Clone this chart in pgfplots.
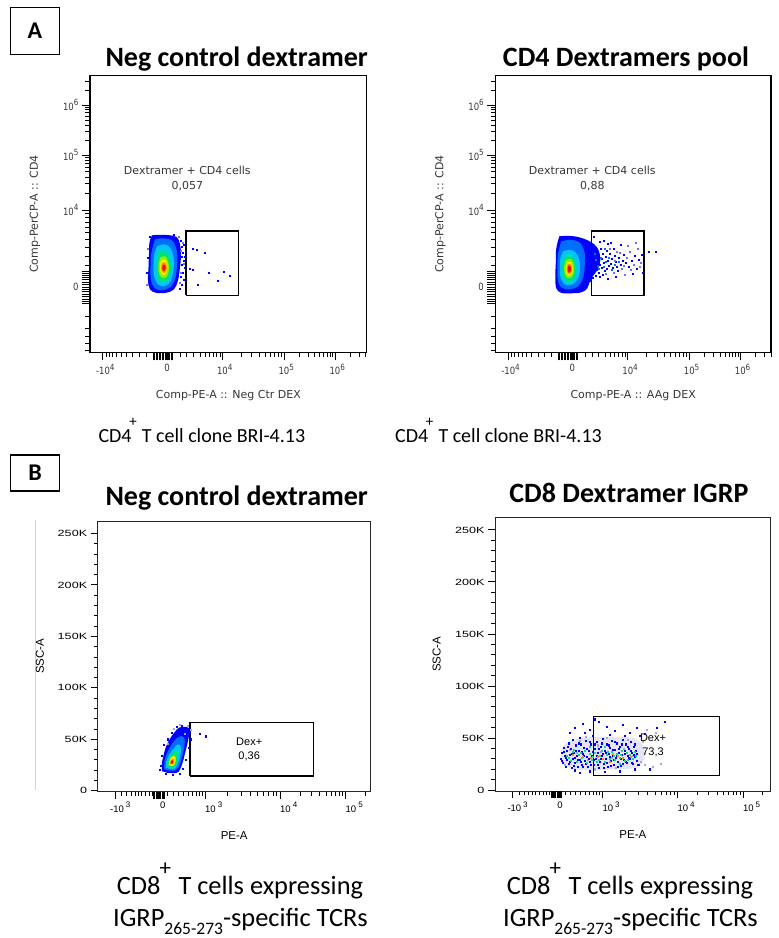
\documentclass[border=0pt]{standalone}
\usepackage{pgfplots}
\pgfplotsset{compat=1.18}
\usepackage{fontspec}
\setmainfont{Carlito}
\newfontfamily\fjfont{DejaVu Sans}
\newfontfamily\fjnarrow[FakeStretch=0.85]{DejaVu Sans}
\newfontfamily\hvfont{Liberation Sans}
\newfontfamily\hvwide[FakeStretch=1.4]{Liberation Sans}

% pseudocolour density levels (low -> high)
\definecolor{pc1}{RGB}{0,0,255}
\definecolor{pc2}{RGB}{0,110,255}
\definecolor{pc3}{RGB}{0,200,240}
\definecolor{pc4}{RGB}{0,225,120}
\definecolor{pc5}{RGB}{140,240,0}
\definecolor{pc6}{RGB}{255,235,0}
\definecolor{pc7}{RGB}{255,140,0}
\definecolor{pc8}{RGB}{235,20,0}
\definecolor{haze}{RGB}{228,228,246}
\definecolor{mist}{RGB}{165,165,215}
\definecolor{lilac}{RGB}{110,110,255}
\definecolor{fjtext}{RGB}{55,55,55}

% fonts used inside the plots
\newcommand\ftick{\fjnarrow\fontsize{10}{11}\selectfont\color{fjtext}}
\newcommand\fsup[1]{\raisebox{4.5pt}{\fontsize{8.5}{9}\selectfont #1}}
\newcommand\fdec[2]{\makebox[0pt]{\ftick\phantom{\fsup{#2}}#1\fsup{#2}}}
\newcommand\flab{\fjfont\fontsize{11}{12}\selectfont\color{fjtext}}
\newcommand\htick{\hvfont\fontsize{9.5}{10}\selectfont}
\newcommand\hsup[1]{\kern2pt\raisebox{4.5pt}{\fontsize{8}{8}\selectfont #1}}
\newcommand\hlab{\hvfont\fontsize{11.5}{12}\selectfont}
\newcommand\lft[1]{\makebox[0pt][l]{#1}}

\pgfplotsset{
  level/.style={draw=none, fill=#1, smooth, tension=0.6},
  dots/.style={only marks, mark=square*, mark size=0.55pt, color=#1, mark options={draw=none, fill=#1}},
  gate/.style={black, line width=1.2pt, mark=none},
  % biexponential display used by the CD4 panels
  fjtop/.style={
    scale only axis, height=276.6pt,
    ymin=0, ymax=276.6, xmin=0,
    axis line style={black, line width=1.2pt},
    tick align=outside, xtick pos=bottom, ytick pos=left,
    major tick length=8pt, minor tick length=4.5pt,
    every major tick/.append style={black, line width=1pt},
    every minor tick/.append style={black, line width=0.8pt},
    xtick={13,77,132.5,194,245},
    xticklabels={{\fdec{-10}{4}},{\ftick 0},{\fdec{10}{4}},{\fdec{10}{5}},{\fdec{10}{6}}},
    minor xtick={16,19.3,22.7,26.7,31,36,42.7,49.3,56,90,96.7,103.3,110,115,119.3,123.3,126.7,130,151,161.8,169.5,175.5,180.4,184.5,188,191.2,209.4,218.3,224.7,229.6,233.7,237.1,240.1,242.7,260.4,269.3,275.7},
    extra x ticks={63,64.5,66,67.5,69,70.5,72,73.5,75,76.5,78,79.5,81,82.5},
    extra x tick labels={},
    ytick={65.3,142.3,197.3,247.3},
    yticklabels={{\ftick 0},{\ftick 10\fsup{4}},{\ftick 10\fsup{5}},{\ftick 10\fsup{6}}},
    minor ytick={2.3,9,15.6,24,35.6,87.3,95.9,104.5,113.1,119.6,125.2,130.4,134.8,139,158.9,168.5,175.4,180.7,185.1,188.8,192,194.8,212.4,221.2,227.4,232.2,236.2,239.6,242.5,245,262.4,271.2},
    extra y ticks={49,51,53,55.5,58,60.5,63,67.5,70,72.5,75,77,79,81},
    extra y tick labels={},
    every axis x label/.style={at={(axis description cs:0.5,-0.158)}, anchor=center},
    every axis y label/.style={at={(axis description cs:-0.199,0.5)}, rotate=90, anchor=center},
  },
  % linear SSC against biexponential PE for the CD8 panels
  fjbot/.style={
    scale only axis, xmin=0, ymin=-1, ymax=262.144,
    axis line style={black!85, line width=1pt},
    tick align=outside, xtick pos=bottom, ytick pos=left,
    major tick length=7pt, minor tick length=4pt,
    every major tick/.append style={black, line width=0.9pt},
    every minor tick/.append style={black, line width=0.7pt},
    xtick={17.5,65,107.5,182.5,248},
    xticklabels={{\lft{\htick\hspace{-5pt}-10\hsup{3}}},{\htick 0},{\lft{\htick 10\hsup{3}}},{\lft{\htick 10\hsup{4}}},{\lft{\htick 10\hsup{5}}}},
    minor xtick={24,29,33.3,37.3,40.6,44,48,51.3,54.6,70,75.6,80.6,85.6,90.6,94.6,98.3,101.6,104.6,130.1,143.3,152.7,159.9,165.9,170.9,175.2,179.1,202.2,213.8,221.9,228.3,233.5,237.9,241.7,245,267.7},
    extra x ticks={56,57.2,58.4,59.6,60.8,62,63.2,64.4,65.6,66.8},
    extra x tick labels={},
    ytick={0,50,100,150,200,250},
    yticklabels={0,50K,100K,150K,200K,250K},
    minor y tick num=4,
    yticklabel style={font=\hvwide\fontsize{9}{10}\selectfont},
  },
}

\begin{document}
\begin{tikzpicture}[x=1pt,y=1pt]
\path[use as bounding box] (0,0) rectangle (779,-938);

% panel letters
\draw[line width=1.3pt] (10.7,-7.3) rectangle (59.3,-54.3);
\node[font=\bfseries\fontsize{24}{24}\selectfont] at (35,-31) {A};
\draw[line width=1.3pt] (10.7,-455) rectangle (59.3,-491);
\node[font=\bfseries\fontsize{24}{24}\selectfont] at (35,-473) {B};

% panel titles
\node[anchor=base, font=\bfseries\fontsize{28}{28}\selectfont] at (236.7,-66.7) {Neg control dextramer};
\node[anchor=base, font=\bfseries\fontsize{28}{28}\selectfont] at (626,-66.7) {CD4 Dextramers pool};
\node[anchor=base, font=\bfseries\fontsize{28}{28}\selectfont] at (236.7,-505) {Neg control dextramer};
\node[anchor=base, font=\bfseries\fontsize{28}{28}\selectfont] at (629,-502.7) {CD8 Dextramer IGRP};

% captions (cell type, raised plus sign, remainder)
\foreach \dx in {0,296.6} {
  \node[anchor=base west, inner sep=0, font=\fontsize{20}{20}\selectfont] at (98.3+\dx,-442.7) {CD4};
  \node[inner sep=0, font=\fontsize{15}{15}\selectfont] at (133+\dx,-422.5) {+};
  \node[anchor=base west, inner sep=0, font=\fontsize{20}{20}\selectfont] at (141.7+\dx,-442.7) {T cell clone BRI-4.13};
}
\foreach \dx in {0,390} {
  \node[anchor=base west, inner sep=0, font=\fontsize{26.4}{26.4}\selectfont] at (116.7+\dx,-894) {CD8};
  \node[inner sep=0, font=\fontsize{23}{23}\selectfont] at (165.3+\dx,-869.5) {+};
  \node[anchor=base west, inner sep=0, font=\fontsize{26.4}{26.4}\selectfont] at (178.3+\dx,-894) {T cells expressing};
  \node[anchor=base, font=\fontsize{26.4}{26.4}\selectfont] at (240.5+\dx,-926.7) {IGRP\raisebox{-8pt}{\fontsize{17.5}{17.5}\selectfont 265-273}-specific TCRs};
}

% faint rule left of the lower-left panel
\draw[gray!35, line width=0.8pt] (35.7,-520) -- (35.7,-790);

%% ---------------- A, left: negative control dextramer ----------------
\begin{axis}[fjtop, at={(90pt,-75.7pt)}, anchor=north west,
  width=276.7pt, xmax=276.7,
  xlabel={\flab Comp-PE-A :: Neg Ctr DEX}, ylabel={\flab Comp-PerCP-A :: CD4}]
\addplot[level=pc1] coordinates {(62,117) (70,117.5) (80,117) (87,115) (90,108) (91,98) (90,85) (88,72) (84,63) (76,59.5) (66,59.5) (60,63) (58,72) (58.5,85) (59,98) (59.5,110) (62,117)};
\addplot[level=pc2] coordinates {(65,113) (74,114) (83,111) (87,100) (87,86) (85,73) (80,65) (72,62) (65,64) (61,72) (60.5,86) (61.5,100) (65,113)};
\addplot[level=pc3] coordinates {(67,106) (75,108) (81,103) (84,92) (83,80) (80,70) (74,66) (68,68) (64,76) (63.5,88) (64.5,99) (67,106)};
\addplot[level=pc4] coordinates {(69,100) (75,101) (79,96) (81,87) (80,78) (76,71) (71,70) (67.5,75) (66.5,85) (67,94) (69,100)};
\addplot[level=pc5] coordinates {(70.5,95) (75,96) (78,91) (79,84) (77.5,77) (74,74) (70.5,76) (68.5,81) (68.5,89) (70.5,95)};
\addplot[level=pc6] coordinates {(71.5,92) (75,93) (77,89) (77.5,84) (76,79) (73.5,77) (71,79) (70,84) (70.3,89) (71.5,92)};
\addplot[level=pc7] coordinates {(72.3,89.5) (75,90) (76.5,86.5) (76.3,82) (74.5,79.5) (72.5,80) (71.2,83) (71.3,87) (72.3,89.5)};
\addplot[level=pc8] coordinates {(73,87.5) (75,87.5) (75.7,84.5) (74.8,81.8) (73.2,81.3) (72.2,83.5) (72.4,86.5) (73,87.5)};
\addplot[dots=pc1] coordinates {(91,112) (92,106) (93,100) (91.5,96) (94,92) (92,88) (95,85) (93,80) (91,76) (94,73) (92,68) (90,64) (94,108) (95,96) (96,101) (57,80) (57.5,95) (60,116) (84,118)};
\addplot[dots=lilac] coordinates {(89,116) (92.5,110) (90.5,102) (93.5,89) (90.5,80) (89.5,70) (57,68) (58,104)};
\addplot[dots=pc1] coordinates {(102.7,104) (106.7,102.3) (114.3,99.6) (100,84) (102.7,83) (107.7,68) (118.7,80) (127.3,71.3) (134,81) (139.3,76.6)};
\addplot[gate] coordinates {(96,57) (148.7,57) (148.7,121.3) (96,121.3) (96,57)};
\node[font=\fjfont\fontsize{11}{15}\selectfont, text=fjtext, align=center] at (axis cs:97.3,174) {Dextramer + CD4 cells\\0,057};
\end{axis}

%% ---------------- A, right: CD4 dextramer pool ----------------
\begin{axis}[fjtop, at={(495.3pt,-75.7pt)}, anchor=north west,
  width=275.7pt, xmax=275.7,
  xlabel={\flab Comp-PE-A :: AAg DEX}, ylabel={\flab Comp-PerCP-A :: CD4}]
\addplot[level=pc1] coordinates {(64,116) (72,116.5) (82,115.5) (90,113) (96,110) (101,106) (104,100) (105,92) (103,84) (99,78) (95,72) (92,64) (86,60) (76,59) (66,59.5) (61,64) (60,75) (60.5,90) (61,104) (64,116)};
\addplot[level=pc2] coordinates {(66,111) (75,112.5) (84,110) (89,101) (89.5,88) (88,75) (83,66) (74,63) (66,65) (62.5,73) (62,87) (63,100) (66,111)};
\addplot[level=pc3] coordinates {(68,101) (75,102.5) (81,99) (84.5,90) (84,78) (80,70) (74,67) (68,69) (65,76) (64.5,87) (65.5,96) (68,101)};
\addplot[level=pc4] coordinates {(69.5,95) (75,96.5) (79,92) (81,84) (80,76) (76,71.5) (71,71.5) (67.5,76) (67,84) (67.5,91) (69.5,95)};
\addplot[level=pc5] coordinates {(70.5,92) (75,93.5) (78,90) (79,83) (77.5,76.5) (74,74) (70.5,76) (69,81) (69,87) (70.5,92)};
\addplot[level=pc6] coordinates {(72,89.5) (75,90.5) (77,87) (77.5,82) (76,78) (73.5,76.5) (71.2,78.5) (70.5,82.5) (70.7,86.5) (72,89.5)};
\addplot[level=pc7] coordinates {(72.5,88) (75,88.5) (76.5,85) (76.3,80.5) (74.5,78.3) (72.5,78.8) (71.5,82) (71.7,85.5) (72.5,88)};
\addplot[level=pc8] coordinates {(73,86.5) (75,86.5) (75.8,83) (75,80) (73.3,79.7) (72.3,82) (72.5,85) (73,86.5)};
\addplot[dots=pc1] coordinates {(93,110) (95,106) (97,103) (96,98) (98,95) (95,92) (97,89) (99,86) (96,84) (98,80) (100,77) (97,75) (94,72) (101,100) (103,97) (102,92) (104,88) (101,83) (103,80) (105,104) (107,99) (106,94) (108,90) (106,85) (109,82) (104,76) (107,78) (110,96) (111,102) (112,92) (113,87) (111,84) (114,99) (116,94) (115,89) (117,85) (119,97) (118,104) (120,91) (121,86) (123,95) (125,88) (122,82) (127,92) (128,98) (130,90) (133,86) (136,92) (139,97) (141,84) (143,93) (137,79) (146,98) (115,110) (108,112) (120,76) (112,74) (125,108) (147,80) (98,115.6) (104.7,110.6) (112,109) (153,100.6) (160.7,100.6)};
\addplot[dots=lilac] coordinates {(124,100) (126,84) (131,95) (134,101) (138,88) (142,104) (145,90) (129,78) (132,107) (140,110) (144,86) (118,80) (110,79) (114,104) (121,101) (135,83) (128,87) (119,92)};
\addplot[dots=pc2] coordinates {(99,99) (102,87) (105,95) (108,86) (110,91) (113,95) (116,83) (109,104) (119,88) (123,91) (100,93) (103,84)};
\addplot[gate] coordinates {(96,57) (148.7,57) (148.7,121.3) (96,121.3) (96,57)};
\node[font=\fjfont\fontsize{11}{15}\selectfont, text=fjtext, align=center] at (axis cs:97,174) {Dextramer + CD4 cells\\0,88};
\end{axis}

%% ---------------- B, left: negative control dextramer ----------------
\begin{axis}[fjbot, at={(97.7pt,-521pt)}, anchor=north west,
  width=273pt, height=270.7pt, xmax=273,
  xlabel={\hlab PE-A}, ylabel={\hlab SSC-A},
  every axis x label/.style={at={(axis description cs:0.5,-0.1625)}, anchor=center},
  every axis y label/.style={at={(axis description cs:-0.2114,0.5)}, rotate=90, anchor=center}]
\addplot[level=pc1] coordinates {(64.5,19) (70,17.3) (76,17) (81,18.5) (84.5,26) (87,35) (89.5,45) (91.5,55) (91,61) (86,62) (81,61) (77,57) (72,50) (68,42) (65.5,33) (64,25) (64.5,19)};
\addplot[level=pc2] coordinates {(66.5,21) (72,19.5) (78,20) (82,25) (84.5,33) (86.5,42) (87,50) (84,53) (79,51) (74,45) (70,38) (67,30) (66.5,21)};
\addplot[level=pc3] coordinates {(68,22.5) (73,21) (78,22) (81,28) (83,36) (83,43) (80,45) (76,41) (72,36) (69,30) (68,22.5)};
\addplot[level=pc4] coordinates {(69.5,23.5) (74,22.5) (78,24.5) (80,30) (80.5,37) (78,39) (74.5,36) (71,31) (69.5,23.5)};
\addplot[level=pc6] coordinates {(71,25) (75,24) (77.5,27) (78,32) (76,34) (72.5,31) (71,25)};
\addplot[level=pc7] coordinates {(72.5,26) (75,25.5) (76.5,28.5) (75.5,31) (73.2,29.5) (72.5,26)};
\addplot[level=pc8] coordinates {(73,26.5) (74.8,26.3) (75.5,28.5) (74.5,30) (73.3,28.8) (73,26.5)};
\addplot[dots=pc1] coordinates {(63,24) (64,34) (66,45) (70,50) (74,56) (79,62) (84,63) (88,60) (92,57) (93,50) (91,42) (88,30) (85,21) (82,16.5) (75,15.5) (68,16.5) (62,20) (102.3,55) (108,53)};
\addplot[dots=mist] coordinates {(76,60) (82,64) (90,63) (93,59) (70,46) (87,55)};
\addplot[gate] coordinates {(92.3,14.2) (215.6,14.2) (215.6,65.9) (92.3,65.9) (92.3,14.2)};
\node[font=\hvfont\fontsize{11}{14}\selectfont, align=center] at (axis cs:151.5,39.7) {Dex+\\0,36};
\end{axis}

%% ---------------- B, right: CD8 dextramer IGRP ----------------
\begin{axis}[fjbot, at={(495pt,-517.3pt)}, anchor=north west,
  width=275.7pt, height=273.7pt, xmax=275.7,
  xlabel={\hlab PE-A}, ylabel={\hlab SSC-A},
  every axis x label/.style={at={(axis description cs:0.5,-0.1608)}, anchor=center},
  every axis y label/.style={at={(axis description cs:-0.2115,0.5)}, rotate=90, anchor=center}]
\addplot[level=haze] coordinates {(68,26) (76,21) (90,19) (110,19.5) (130,20) (142,22) (148,27) (150,35) (147,44) (138,50) (120,51) (100,51) (82,49) (70,44) (66,36) (68,26)};
\addplot[dots=mist] coordinates {(70,24) (82,36) (93,29) (106,37) (117,31) (129,40) (138,33) (146,27) (100,20) (121,21) (85,47) (112,50) (133,48) (148,46) (150,24) (103,43) (91,51) (75,39) (158,22) (166,25) (161,55) (152,58)};
\addplot[dots=pc1] coordinates {(66,30) (67,36) (68,26) (69,41) (70,33) (71,22) (72,38) (72,29) (74,45) (74,25) (75,34) (76,40) (77,21) (78,30) (78,48) (79,36) (80,26) (81,43) (82,33) (83,22) (84,38) (85,29) (85,50) (86,44) (87,24) (88,35) (89,41) (90,28) (91,47) (92,32) (93,22) (94,38) (95,27) (96,44) (97,33) (98,52) (99,24) (100,40) (101,30) (102,46) (103,36) (104,21) (105,27) (106,42) (107,33) (108,49) (109,25) (110,38) (111,30) (112,44) (113,22) (114,35) (115,41) (116,28) (117,47) (118,33) (119,24) (120,39) (121,31) (122,45) (123,27) (124,36) (125,42) (126,23) (127,34) (128,48) (129,29) (130,38) (131,44) (132,26) (133,33) (134,40) (135,30) (136,46) (137,36) (138,25) (139,42) (140,32) (141,38) (142,28) (144,24) (80,60) (88,64) (95,58) (104,66) (112,61) (120,57) (128,63) (135,55) (142,60) (150,54) (162,60) (170,66) (100,68) (75,55) (90,55) (115,53) (130,52) (145,52) (80,19) (95,18) (110,17.5) (125,18) (140,20) (85,17) (155,20)};
\addplot[dots=pc1] coordinates {(67,28) (69,37) (71,31) (73,42) (75,27) (77,35) (79,23) (80,31) (81,38) (83,29) (84,45) (86,27) (87,37) (88,22) (89,33) (91,25) (92,40) (94,30) (95,46) (96,24) (98,37) (99,29) (100,44) (102,33) (103,24) (104,40) (106,30) (107,45) (108,35) (109,21) (111,36) (112,26) (114,43) (115,32) (116,23) (118,39) (119,29) (120,46) (122,33) (123,22) (124,40) (126,30) (127,44) (128,25) (130,35) (131,27) (133,42) (134,31) (136,38) (137,26) (139,34) (140,44) (142,35) (143,24)};
\addplot[dots=pc4] coordinates {(72,33) (76,28) (79,39) (82,27) (84,34) (87,31) (90,38) (92,26) (95,35) (97,29) (100,36) (102,27) (105,33) (107,38) (110,27) (112,34) (115,30) (117,37) (120,29) (122,35) (125,31) (127,38) (130,28) (132,36) (135,34) (138,30) (140,37) (110,42) (95,42) (125,25) (74,31) (86,36) (98,32) (104,29) (113,37) (119,33) (126,34) (133,29) (141,33) (78,37)};
\addplot[dots=pc7] coordinates {(78,34) (96,31) (103,32) (108,30) (118,35) (123,33) (128,31) (115,27) (136,32) (88,32)};
\addplot[gate] coordinates {(98.3,13.75) (224.3,13.75) (224.3,70.5) (98.3,70.5) (98.3,13.75)};
\node[font=\hvfont\fontsize{11}{14}\selectfont, align=center] at (axis cs:158,42.5) {Dex+\\73,3};
\end{axis}
\end{tikzpicture}
\end{document}
